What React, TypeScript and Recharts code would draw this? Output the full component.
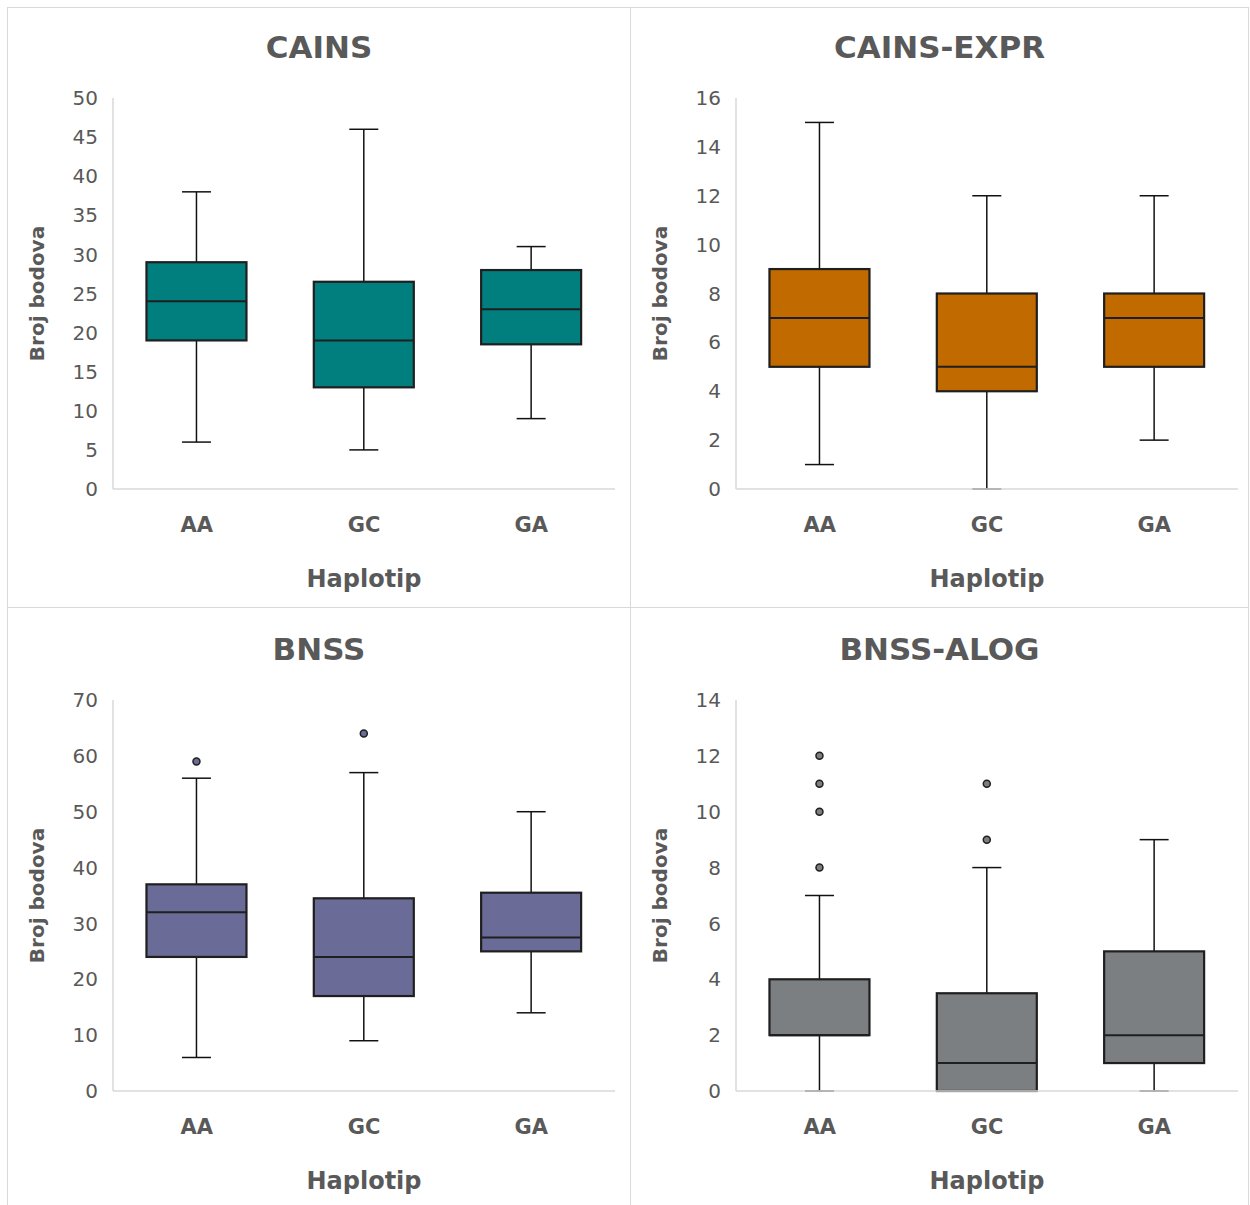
import { ComposedChart, Bar, XAxis, YAxis } from 'recharts'

const haplotypes = ['AA', 'GC', 'GA']

// CAINS
const cainsMin = [6, 5, 9]
const cainsQ1 = [19, 13, 18.5]
const cainsMedian = [24, 19, 23]
const cainsQ3 = [29, 26.5, 28]
const cainsMax = [38, 46, 31]
const cainsOutliers: number[][] = [[], [], []]
const cainsTicks = [0, 5, 10, 15, 20, 25, 30, 35, 40, 45, 50]

// CAINS-EXPR
const exprMin = [1, 0, 2]
const exprQ1 = [5, 4, 5]
const exprMedian = [7, 5, 7]
const exprQ3 = [9, 8, 8]
const exprMax = [15, 12, 12]
const exprOutliers: number[][] = [[], [], []]
const exprTicks = [0, 2, 4, 6, 8, 10, 12, 14, 16]

// BNSS
const bnssMin = [6, 9, 14]
const bnssQ1 = [24, 17, 25]
const bnssMedian = [32, 24, 27.5]
const bnssQ3 = [37, 34.5, 35.5]
const bnssMax = [56, 57, 50]
const bnssOutliers: number[][] = [[59], [64], []]
const bnssTicks = [0, 10, 20, 30, 40, 50, 60, 70]

// BNSS-ALOG
const alogMin = [0, 0, 0]
const alogQ1 = [2, 0, 1]
const alogMedian = [2, 1, 2]
const alogQ3 = [4, 3.5, 5]
const alogMax = [7, 8, 9]
const alogOutliers: number[][] = [[12, 11, 10, 8], [11, 9], []]
const alogTicks = [0, 2, 4, 6, 8, 10, 12, 14]

const FONT = "'DejaVu Sans', sans-serif"
const TEXT = '#595959'
const GRID = '#D9D9D9'

interface Row { cat: string; min: number; q1: number; med: number; q3: number; max: number; out: number[]; range: [number, number] }

function buildRows(mins: number[], q1: number[], med: number[], q3: number[], max: number[], out: number[][]): Row[] {
  return haplotypes.map((cat, i) => ({
    cat,
    min: mins[i],
    q1: q1[i],
    med: med[i],
    q3: q3[i],
    max: max[i],
    out: out[i],
    range: [mins[i], max[i]],
  }))
}

function BoxShape(props: any) {
  const { x, y, width, height, payload, fill } = props
  if (x == null || !payload) return null
  const top = Math.min(y, y + height)
  const h = Math.abs(height)
  const span = payload.max - payload.min
  // map a value onto the bar's own pixel range (min..max)
  const py = (v: number) => (span === 0 ? top : top + (h * (payload.max - v)) / span)
  const cx = x + width / 2
  const cap = width * 0.29
  const whisker = '#111'
  const edge = '#1f1f1f'
  return (
    <g>
      <line x1={cx} x2={cx} y1={py(payload.max)} y2={py(payload.q3)} stroke={whisker} strokeWidth={1.5} />
      <line x1={cx} x2={cx} y1={py(payload.q1)} y2={py(payload.min)} stroke={whisker} strokeWidth={1.5} />
      <line x1={cx - cap / 2} x2={cx + cap / 2} y1={py(payload.max)} y2={py(payload.max)} stroke={whisker} strokeWidth={1.5} />
      <line x1={cx - cap / 2} x2={cx + cap / 2} y1={py(payload.min)} y2={py(payload.min)} stroke={whisker} strokeWidth={1.5} />
      <rect x={x} y={py(payload.q3)} width={width} height={py(payload.q1) - py(payload.q3)} fill={fill} stroke={edge} strokeWidth={2.2} />
      <line x1={x} x2={x + width} y1={py(payload.med)} y2={py(payload.med)} stroke={edge} strokeWidth={2} />
      {payload.out.map((v: number, i: number) => (
        <circle key={i} cx={cx} cy={py(v)} r={3.5} fill={fill} stroke={edge} strokeWidth={1.5} />
      ))}
    </g>
  )
}

function Panel({ title, color, rows, ticks, left, top, width, height, plotTop, plotBottom, plotLeft, right }: {
  title: string; color: string; rows: Row[]; ticks: number[]
  left: number; top: number; width: number; height: number
  plotTop: number; plotBottom: number; plotLeft: number; right: number
}) {
  const plotMidX = (plotLeft + width - right) / 2
  const plotMidY = (plotTop + plotBottom) / 2
  return (
    <div style={{ position: 'absolute', left, top, width, height, border: `1px solid ${GRID}`, boxSizing: 'border-box', background: '#fff' }}>
      <div style={{ position: 'absolute', left: -1, top: -1 }}>
        <ComposedChart
          width={width}
          height={height}
          data={rows}
          margin={{ top: plotTop, right, bottom: 0, left: 0 }}
          barCategoryGap="20%"
        >
          <XAxis
            dataKey="cat"
            height={height - plotBottom}
            tickLine={false}
            tickSize={0}
            tickMargin={28}
            axisLine={{ stroke: GRID, strokeWidth: 1.5 }}
            tick={{ fill: TEXT, fontSize: 21, fontWeight: 700, fontFamily: FONT }}
          />
          <YAxis
            width={plotLeft}
            domain={[ticks[0], ticks[ticks.length - 1]]}
            ticks={ticks}
            interval={0}
            tickLine={false}
            tickSize={0}
            tickMargin={15}
            axisLine={{ stroke: GRID, strokeWidth: 1.5 }}
            tick={{ fill: TEXT, fontSize: 20, fontFamily: FONT }}
          />
          <Bar dataKey="range" fill={color} isAnimationActive={false} shape={(p: any) => <BoxShape {...p} />} />
        </ComposedChart>
      </div>
      <svg width={width} height={height} style={{ position: 'absolute', left: -1, top: -1, pointerEvents: 'none' }}>
        <text x={width / 2} y={plotTop - 40} textAnchor="middle" fill={TEXT} fontSize={31} fontWeight={700} fontFamily={FONT}>{title}</text>
        <text x={37} y={plotMidY} textAnchor="middle" fill={TEXT} fontSize={20} fontWeight={700} fontFamily={FONT} transform={`rotate(-90, 37, ${plotMidY})`}>Broj bodova</text>
        <text x={plotMidX} y={plotBottom + 98} textAnchor="middle" fill={TEXT} fontSize={24} fontWeight={700} fontFamily={FONT}>Haplotip</text>
      </svg>
    </div>
  )
}

export default function App() {
  return (
    <div style={{ position: 'absolute', left: 0, top: 0, width: 1250, height: 1205, background: '#fff' }}>
      <Panel title="CAINS" color="#007F7E" rows={buildRows(cainsMin, cainsQ1, cainsMedian, cainsQ3, cainsMax, cainsOutliers)} ticks={cainsTicks}
        left={7} top={7} width={624} height={601} plotTop={91} plotBottom={482} plotLeft={106} right={16} />
      <Panel title="CAINS-EXPR" color="#C06A00" rows={buildRows(exprMin, exprQ1, exprMedian, exprQ3, exprMax, exprOutliers)} ticks={exprTicks}
        left={630} top={7} width={619} height={601} plotTop={91} plotBottom={482} plotLeft={106} right={11} />
      <Panel title="BNSS" color="#6B6B98" rows={buildRows(bnssMin, bnssQ1, bnssMedian, bnssQ3, bnssMax, bnssOutliers)} ticks={bnssTicks}
        left={7} top={607} width={624} height={599} plotTop={93} plotBottom={484} plotLeft={106} right={16} />
      <Panel title="BNSS-ALOG" color="#7B7F82" rows={buildRows(alogMin, alogQ1, alogMedian, alogQ3, alogMax, alogOutliers)} ticks={alogTicks}
        left={630} top={607} width={619} height={599} plotTop={93} plotBottom={484} plotLeft={106} right={11} />
    </div>
  )
}
